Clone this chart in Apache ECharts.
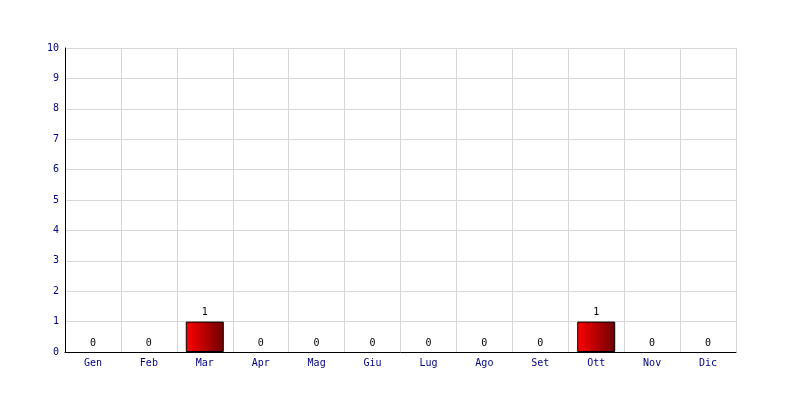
<!DOCTYPE html>
<html><head><meta charset="utf-8">
<script src="https://cdn.jsdelivr.net/npm/echarts@6/dist/echarts.min.js"></script>
<style>html,body{margin:0;padding:0;background:#fff}#c{width:800px;height:400px}</style>
</head><body><div id="c"></div>
<script>
const months = ["Gen","Feb","Mar","Apr","Mag","Giu","Lug","Ago","Set","Ott","Nov","Dic"];
const values = [0,0,1,0,0,0,0,0,0,1,0,0];
const yMin = 0, yMax = 10, yStep = 1;

const chart = echarts.init(document.getElementById('c'), null, {renderer:'canvas'});
const font = "'DejaVu Sans Mono', monospace";
chart.setOption({
  animation:false,
  backgroundColor:'#ffffff',
  grid:{left:65,right:64,top:48,bottom:48,containLabel:false},
  xAxis:{
    type:'category', data:months, boundaryGap:true,
    axisLine:{lineStyle:{color:'#000',width:1}},
    axisTick:{show:false},
    axisLabel:{color:'#000080',fontFamily:font,fontSize:10,margin:6},
    splitLine:{show:true,lineStyle:{color:'#d8d8d8',width:1}}
  },
  yAxis:{
    type:'value', min:yMin, max:yMax, interval:yStep,
    axisLine:{show:true,lineStyle:{color:'#000',width:1}},
    axisTick:{show:false},
    axisLabel:{color:'#000080',fontFamily:font,fontSize:10,margin:6},
    splitLine:{show:true,lineStyle:{color:'#d8d8d8',width:1}}
  },
  series:[{
    type:'bar', barWidth:38,
    data:values.map(v => v === 0 ? {value:v,itemStyle:{borderWidth:0}} : v),
    itemStyle:{
      color:new echarts.graphic.LinearGradient(0,0,1,0,[{offset:0,color:'#ff0000'},{offset:1,color:'#6e0000'}]),
      borderColor:'#000',borderWidth:1
    },
    label:{show:true,position:'top',color:'#000',fontFamily:font,fontSize:10,distance:4}
  }]
});
</script></body></html>
